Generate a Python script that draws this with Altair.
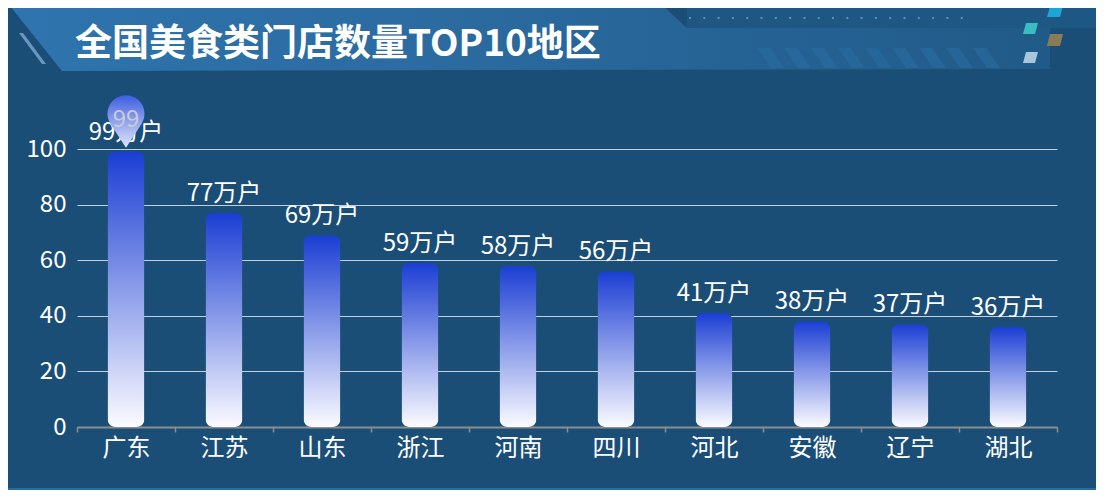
import altair as alt
import pandas as pd

# ---------------- data ----------------
regions = ["广东", "江苏", "山东", "浙江", "河南", "四川", "河北", "安徽", "辽宁", "湖北"]
values = [99, 77, 69, 59, 58, 56, 41, 38, 37, 36]
unit = "万户"
title_text = "全国美食类门店数量TOP10地区"
y_ticks = [0, 20, 40, 60, 80, 100]

df = pd.DataFrame({"region": regions, "value": values})
df["label"] = df["value"].astype(str) + unit
max_df = df[df["value"] == df["value"].max()].copy()

FONT = "Noto Sans CJK SC"
PANEL = "#1b4e77"
# plot-area origin in page pixels (used only for decoration paths)
OX, OY = 77, 149

one = pd.DataFrame({"k": [0]})


def poly(pts):
    return "M" + " L".join(f"{x:.1f} {y:.1f}" for x, y in pts) + " Z"


def deco(path, fill, opacity=1.0):
    return alt.Chart(one).mark_point(
        shape=path, size=4, filled=True, fill=fill, opacity=opacity, strokeWidth=0
    ).encode(x=alt.value(-OX), y=alt.value(-OY))


def grad(stops, horizontal=False):
    g = {
        "gradient": "linear",
        "stops": [{"offset": o, "color": c} for o, c in stops],
        "x1": 0, "y1": 0,
        "x2": 1 if horizontal else 0,
        "y2": 0 if horizontal else 1,
    }
    return g


# ---------------- decoration (header) ----------------
header_path = poly([(10, 6), (663, 6), (687, 28), (1050, 28), (1050, 69), (62, 71)])
header = deco(header_path, grad([(0, "#2f74ae"), (0.45, "#2a6a9f"), (1, "#205a88")], horizontal=True))

strip = deco(poly([(687, 6), (1098, 6), (1098, 28), (687, 28)]), "#1e5784")

dots_path = " ".join(f"M{689 + i * 14.3:.1f} 17 h2 v2 h-2 Z" for i in range(20))
dots = deco(dots_path, "#6a93b8", 0.9)

stripes_path = " ".join(
    poly([(757 + i * 27, 48), (770 + i * 27, 48), (784 + i * 27, 68), (771 + i * 27, 68)])
    for i in range(9)
)
stripes = deco(stripes_path, "#2a6ea3", 0.55)

highlight = deco(poly([(19, 33), (23, 33), (46, 64), (42, 64)]), "#8db6da", 0.7)

squares = [
    (poly([(1050, 6), (1063, 6), (1060, 17), (1047, 17)]), "#1aa6d6"),
    (poly([(1026, 23), (1038, 23), (1035, 34), (1023, 34)]), "#3abcc0"),
    (poly([(1050, 34), (1063, 34), (1060, 46), (1047, 46)]), "#8a7b57"),
    (poly([(1026, 52), (1038, 52), (1035, 63), (1023, 63)]), "#a9c6d9"),
]
square_layers = [deco(p, c) for p, c in squares]

bottom_line = deco(poly([(0, 488), (1104, 488), (1104, 490), (0, 490)]), "#2a6a9e")

title = alt.Chart(one).mark_text(
    text=title_text, align="left", baseline="alphabetic", font=FONT,
    fontSize=37, fontWeight="bold", color="white"
).encode(x=alt.value(75 - OX), y=alt.value(56 - OY))

# ---------------- data marks ----------------
X = alt.X(
    "region:N", sort=regions, title=None,
    scale=alt.Scale(paddingInner=0, paddingOuter=0),
    axis=alt.Axis(
        labelAngle=0, labelPadding=4, grid=False,
        domainColor="#8d8d8d", domainWidth=2,
        tickColor="#8d8d8d", tickWidth=1.5, tickSize=5, tickBand="extent",
    ),
)
Y = alt.Y(
    "value:Q", title=None,
    scale=alt.Scale(domain=[0, 100], nice=False),
    axis=alt.Axis(
        values=y_ticks, domain=False, ticks=False, labelPadding=11,
        gridColor="#c3d1de", gridWidth=1, gridOpacity=1,
    ),
)

bar_grad = grad([(0, "#1b3ed3"), (1, "#fbfbff")])
bars = alt.Chart(df).mark_bar(size=37, cornerRadius=8, color=bar_grad).encode(x=X, y=Y)

labels = alt.Chart(df).mark_text(
    baseline="alphabetic", dy=-12, font=FONT, fontSize=24, color="white"
).encode(x=alt.X("region:N", sort=regions), y="value:Q", text="label:N")

pin_path = "M0 0 L-15.5 -23.9 A18.5 18.5 0 1 1 15.5 -23.9 Z"
pin = alt.Chart(max_df).mark_point(
    shape=pin_path, size=4, filled=True, opacity=1, strokeWidth=0, yOffset=-4,
    fill=grad([(0, "#3d5ee0"), (1, "#e2e7fa")]),
).encode(x=alt.X("region:N", sort=regions), y="value:Q")

pin_text = alt.Chart(max_df).mark_text(
    baseline="alphabetic", dy=-25, font=FONT, fontSize=24, color="#c9cad2"
).encode(x=alt.X("region:N", sort=regions), y="value:Q", text="value:Q")

chart = alt.layer(
    header, strip, dots, stripes, highlight, *square_layers, bottom_line, title,
    bars, labels, pin, pin_text,
).properties(
    width=980, height=278,
    padding={"left": 69, "top": 141, "right": 39, "bottom": 63},
    autosize=alt.AutoSizeParams(type="none"),
    background=PANEL,
).configure_view(stroke=None).configure_axis(
    labelFont=FONT, labelColor="white", labelFontSize=24
)

chart.save("out.html", embed_options={"renderer": "svg", "actions": False})
